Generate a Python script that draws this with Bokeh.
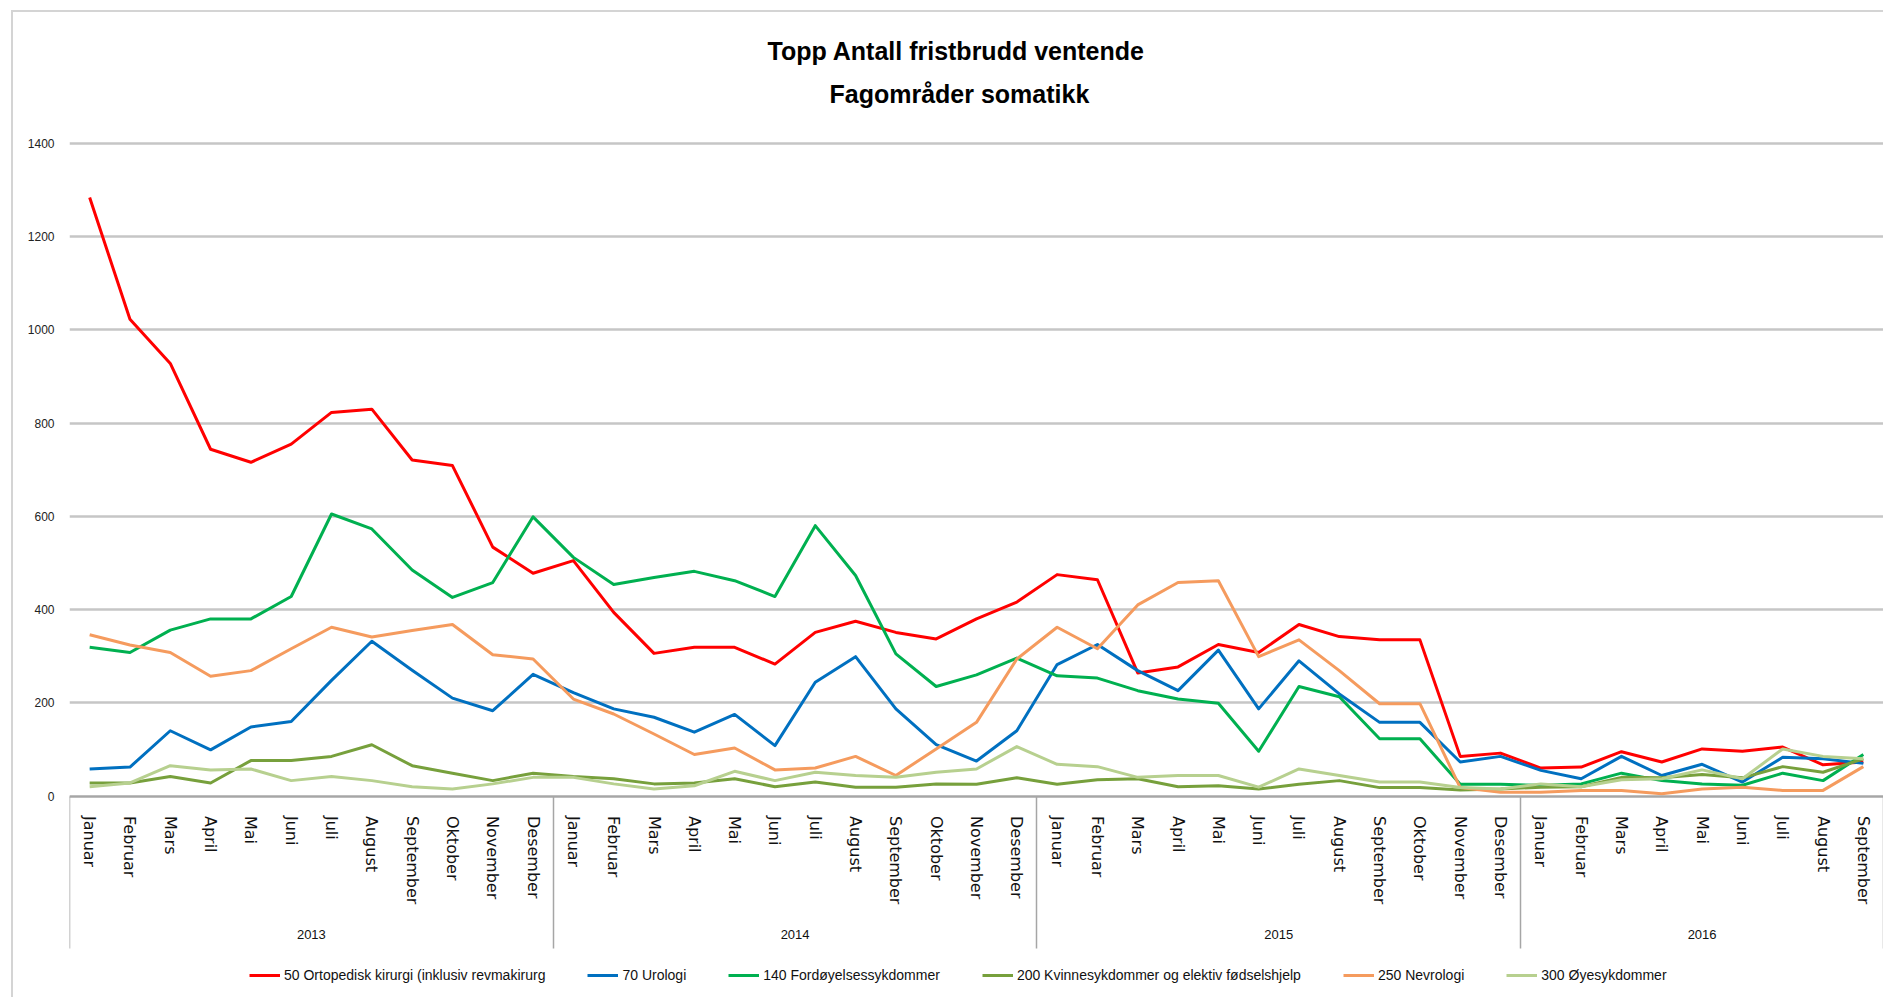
from bokeh.plotting import figure
from bokeh.models import FixedTicker, LinearAxis, Range1d, Legend, LegendItem, Title
from bokeh.embed import file_html
from bokeh.resources import INLINE

years = ["2013", "2014", "2015", "2016"]
month_names = ["Januar", "Februar", "Mars", "April", "Mai", "Juni", "Juli",
               "August", "September", "Oktober", "November", "Desember"]
months_per_year = [12, 12, 12, 9]

series_names = [
    "50 Ortopedisk kirurgi (inklusiv revmakirurg",
    "70 Urologi",
    "140 Fordøyelsessykdommer",
    "200 Kvinnesykdommer og elektiv fødselshjelp",
    "250 Nevrologi",
    "300 Øyesykdommer",
]
series_colors = ["#FF0000", "#0070C0", "#00B050", "#77A03C", "#F59B5E", "#B7D08F"]

ortopedi = [1284, 1023, 928, 744, 716, 755, 823, 830, 721, 709, 534, 478,
            505, 394, 306, 319, 319, 283, 351, 375, 351, 337, 380, 416,
            475, 464, 264, 277, 325, 308, 368, 342, 335, 335, 85, 92,
            60, 62, 95, 73, 101, 96, 105, 67, 73]
urologi = [58, 62, 140, 99, 148, 160, 248, 332, 270, 210, 183, 261,
           222, 187, 169, 137, 175, 108, 244, 299, 187, 110, 75, 140,
           282, 325, 269, 226, 313, 187, 290, 219, 158, 158, 73, 85,
           55, 37, 85, 44, 68, 30, 83, 80, 70]
fordoyelse = [319, 308, 356, 380, 380, 428, 605, 573, 485, 426, 458, 599,
              512, 454, 469, 482, 462, 428, 580, 473, 305, 235, 260, 296,
              258, 253, 226, 208, 199, 96, 235, 213, 123, 123, 25, 25,
              23, 26, 49, 33, 26, 23, 49, 33, 89]
kvinne = [28, 28, 42, 28, 76, 76, 85, 110, 65, 49, 33, 49,
          42, 37, 26, 28, 37, 20, 30, 19, 19, 26, 25, 39,
          25, 35, 37, 20, 22, 15, 25, 33, 18, 18, 13, 15,
          19, 20, 40, 39, 46, 39, 63, 51, 80]
nevrologi = [346, 324, 308, 257, 269, 316, 362, 341, 355, 368, 303, 294,
             208, 176, 133, 89, 103, 56, 60, 85, 44, 101, 158, 294,
             362, 316, 410, 458, 462, 299, 335, 269, 198, 198, 18, 8,
             8, 12, 12, 5, 15, 19, 12, 12, 63]
oye = [20, 28, 65, 56, 58, 33, 42, 33, 20, 15, 26, 40,
       40, 26, 15, 22, 53, 33, 51, 44, 40, 51, 58, 106,
       68, 63, 40, 44, 44, 19, 58, 44, 30, 30, 18, 15,
       26, 20, 35, 37, 56, 37, 101, 85, 80]

y_ticks = [0, 200, 400, 600, 800, 1000, 1200, 1400]

all_series = [ortopedi, urologi, fordoyelse, kvinne, nevrologi, oye]

# category positions
cat_labels = []
year_centers = []
boundaries = [-0.5]
idx = 0
for yr, cnt in zip(years, months_per_year):
    start = idx
    for m in range(cnt):
        cat_labels.append(month_names[m])
        idx += 1
    year_centers.append((start + idx - 1) / 2)
    boundaries.append(idx - 0.5)
n = len(cat_labels)
xs = list(range(n))

# layout (pixels)
W, H = 1883, 997
LEFT = 69
TOP_PAD = 3                      # px of room above the 1400 gridline
TOP = 143 - TOP_PAD              # space above the frame
VALUE_SPAN_PX = 652.5            # pixels from 0 to 1400
px_per_unit = VALUE_SPAN_PX / max(y_ticks)
frame_h = H - TOP
y_max = max(y_ticks) + TOP_PAD / px_per_unit
y_min = y_max - frame_h / px_per_unit

p = figure(width=W, height=H, output_backend="svg", toolbar_location=None,
           x_range=Range1d(-0.5, n - 0.5), y_range=Range1d(y_min, y_max),
           x_axis_type=None, min_border_left=LEFT, min_border_right=0,
           min_border_top=TOP, min_border_bottom=0)
p.outline_line_color = None
p.background_fill_color = "white"
p.border_fill_color = None
p.styles = {
    "background-color": "white",
    "background-image": "linear-gradient(#d4d4d4, #d4d4d4), linear-gradient(#d4d4d4, #d4d4d4)",
    "background-size": "2px 100%, 100% 2px",
    "background-position": "11px 10px, 11px 10px",
    "background-repeat": "no-repeat",
}

# y axis
p.yaxis.ticker = FixedTicker(ticks=y_ticks)
p.yaxis.axis_line_color = None
p.yaxis.major_tick_line_color = None
p.yaxis.minor_tick_line_color = None
p.yaxis.major_tick_out = 0
p.yaxis.major_label_standoff = 15
p.yaxis.major_label_text_font = "Liberation Sans"
p.yaxis.major_label_text_font_size = "12px"
p.yaxis.major_label_text_color = "#222222"
p.ygrid.ticker = FixedTicker(ticks=y_ticks)
p.ygrid.grid_line_color = "#c6c6c6"
p.ygrid.grid_line_width = 2.5

SEP_LEN = 152
# month axis at value 0 (minor ticks act as the year-group separators)
month_axis = LinearAxis(
    fixed_location=0,
    ticker=FixedTicker(ticks=xs, minor_ticks=boundaries),
    major_label_overrides={i: lab for i, lab in enumerate(cat_labels)},
    major_label_orientation="vertical",
    major_tick_out=0, major_tick_in=0,
    minor_tick_out=SEP_LEN, minor_tick_in=0,
    minor_tick_line_color="#a6a6a6", minor_tick_line_width=1.5,
    axis_line_color="#a6a6a6", axis_line_width=2,
    major_label_standoff=20 - SEP_LEN,
    major_label_text_font="DejaVu Sans",
    major_label_text_font_size="16px",
    major_label_text_color="#111111",
)
p.add_layout(month_axis, "below")

# year axis
year_axis = LinearAxis(
    fixed_location=0,
    ticker=FixedTicker(ticks=year_centers),
    major_label_overrides={c: y for c, y in zip(year_centers, years)},
    major_tick_out=0, major_tick_in=0,
    major_tick_line_color=None, minor_tick_line_color=None,
    axis_line_color=None,
    major_label_standoff=134,
    major_label_text_font="Liberation Sans",
    major_label_text_font_size="13px",
    major_label_text_color="#111111",
)
p.add_layout(year_axis, "below")

items = []
for name, col, vals in zip(series_names, series_colors, all_series):
    r = p.line(xs, vals, line_color=col, line_width=3, line_join="round")
    items.append(LegendItem(label=name, renderers=[r]))

legend = Legend(items=items, orientation="horizontal", location=(180, 14),
                spacing=42, glyph_width=31, glyph_height=16, label_height=16,
                label_standoff=4, padding=0, margin=0, border_line_color=None,
                background_fill_alpha=0,
                label_text_font="Liberation Sans", label_text_font_size="14px",
                label_text_color="#111111")
p.add_layout(legend, "center")

t0 = Title(text=" ", text_font_size="25px", standoff=0)
t2 = Title(text="Fagområder somatikk", align="left", text_font="Liberation Sans",
           text_font_size="25px", text_font_style="bold", text_color="#000000",
           standoff=6, offset=760)
t1 = Title(text="Topp  Antall fristbrudd ventende", align="left",
           text_font="Liberation Sans", text_font_size="25px",
           text_font_style="bold", text_color="#000000", standoff=20, offset=698)
p.add_layout(t0, "above")
p.add_layout(t2, "above")
p.add_layout(t1, "above")

open("out.html", "w").write(file_html(p, INLINE))
